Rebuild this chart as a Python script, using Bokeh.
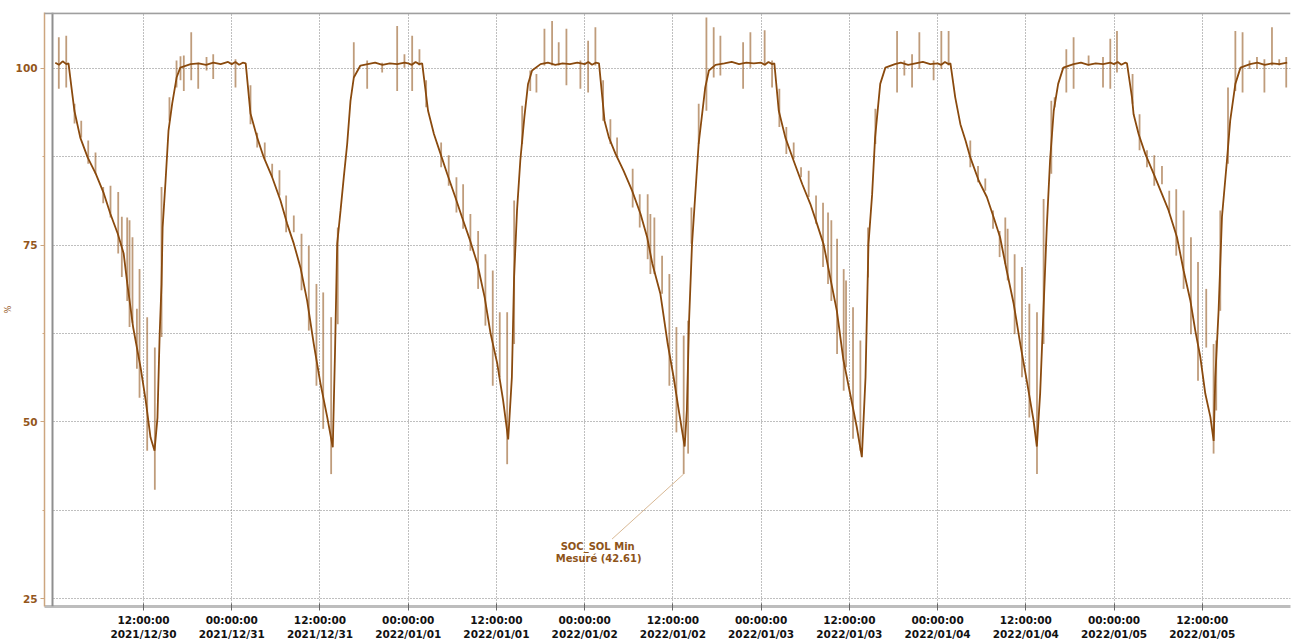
import numpy as np
import pandas as pd
from bokeh.plotting import figure
from bokeh.models import (Range1d, FixedTicker, DatetimeTickFormatter, Span,
                          BoxAnnotation, Label)
from bokeh.embed import file_html
from bokeh.resources import INLINE

# ---------------- data ----------------
DAY_STARTS = ["2021-12-30", "2021-12-31", "2022-01-01", "2022-01-02",
              "2022-01-03", "2022-01-04", "2022-01-05"]

# main SOC curve per day: hours since midnight / value in %
DAY1_H = [0, 0.5, 1.0, 1.5, 1.8, 2.2, 2.6, 3.4, 4.4, 5.5, 6.6, 7.5, 8.5, 9.3, 9.8, 10.6, 11.6, 12.3,
          12.95, 13.5, 13.9, 14.2, 14.45, 14.6, 15.0, 15.4, 15.9, 16.5, 17.0, 18.4, 19.5, 20.5, 21.5, 22.5, 23.5]
DAY1_V = [100.8, 100.5, 101.0, 100.6, 100.7, 97.3, 94.0, 90.2, 87.4, 85.1, 82.3, 79.4, 76.6, 73.8, 69.5, 63.3, 57.7, 53.0,
          47.8, 45.9, 50.6, 62.5, 69.5, 77.5, 84.1, 91.2, 95.0, 98.7, 100.1, 100.6, 100.7, 100.5, 100.8, 100.6, 100.9]
DAY2_H = [0, 0.5, 1.0, 1.5, 1.9, 2.55, 3.46, 4.36, 5.5, 6.63, 7.54, 8.44, 9.35, 10.26, 11.16, 12.07, 12.98, 13.74,
          14.05, 14.34, 14.8, 15.24, 15.7, 16.15, 16.6, 17.5, 18.5, 19.5, 20.5, 21.5, 22.5, 23.5]
DAY2_V = [100.6, 100.9, 100.5, 100.8, 100.7, 93.6, 90.2, 87.4, 84.6, 81.3, 78.0, 75.2, 71.8, 67.1, 61.0, 55.4, 50.7, 46.4,
          60.0, 75.2, 79.9, 84.6, 89.3, 95.4, 98.7, 100.4, 100.6, 100.8, 100.5, 100.7, 100.6, 100.8]
DAY3_H = [0, 0.5, 1.0, 1.5, 1.9, 2.7, 3.5, 4.4, 5.3, 6.4, 7.3, 8.4, 9.4, 10.4, 11.2, 12.1, 12.9, 13.6, 14.1, 14.4,
          14.8, 15.25, 15.8, 16.3, 16.85, 18.0, 19.0, 20.0, 21.0, 22.0, 23.0]
DAY3_V = [100.7, 100.5, 100.9, 100.6, 100.7, 94.0, 90.7, 87.9, 85.1, 81.8, 79.0, 75.7, 72.4, 67.6, 62.5, 58.3, 53.1, 47.5,
          56.3, 70.4, 79.9, 87.0, 93.1, 97.8, 99.7, 100.6, 100.8, 100.5, 100.7, 100.6, 100.8]
DAY4_H = [0, 0.5, 1.0, 1.5, 1.95, 2.4, 2.7, 3.3, 4.2, 5.3, 6.45, 7.6, 8.5, 9.2, 10.3, 11.3, 12.1, 12.8, 13.6, 13.9,
          14.2, 14.6, 15.2, 15.5, 16.4, 16.9, 17.8, 19.0, 20.0, 21.0, 22.0, 23.0]
DAY4_V = [100.6, 100.9, 100.5, 100.8, 100.7, 95.9, 92.6, 90.2, 87.9, 85.5, 82.7, 79.4, 76.1, 72.4, 68.1, 61.0, 56.3, 51.6,
          46.5, 51.6, 64.3, 75.1, 84.6, 89.3, 97.3, 99.7, 100.5, 100.7, 100.9, 100.6, 100.8, 100.7]
DAY5_H = [0, 0.5, 1.0, 1.5, 1.8, 2.4, 3.3, 4.4, 5.6, 6.7, 7.6, 8.5, 9.4, 10.3, 11.2, 12.1, 13.0, 13.7, 14.2, 14.6,
          15.1, 15.5, 16.2, 16.9, 18.2, 19.0, 20.0, 21.0, 22.0, 23.0]
DAY5_V = [100.8, 100.5, 100.9, 100.6, 100.7, 94.0, 90.2, 87.0, 83.6, 80.8, 78.0, 75.1, 70.4, 65.7, 58.7, 54.0, 49.3, 45.0,
          56.3, 75.1, 82.2, 90.2, 97.8, 100.1, 100.6, 100.8, 100.5, 100.7, 100.9, 100.6]
DAY6_H = [0, 0.5, 1.0, 1.5, 1.75, 2.4, 3.1, 3.8, 4.45, 5.6, 6.7, 7.6, 8.5, 9.4, 10.35, 11.25, 12.2, 13.05, 13.5, 13.95,
          14.4, 14.85, 15.3, 15.8, 16.4, 17.1, 18.5, 19.5, 20.5, 21.5, 22.5, 23.5]
DAY6_V = [100.7, 100.5, 100.9, 100.6, 100.7, 95.9, 92.1, 89.8, 87.4, 84.1, 81.8, 79.0, 76.1, 71.4, 66.7, 61.0, 55.4, 50.2,
          46.5, 54.0, 65.7, 77.5, 87.0, 94.0, 97.8, 100.1, 100.6, 100.8, 100.5, 100.7, 100.6, 100.8]
DAY7_H = [0, 0.5, 1.0, 1.5, 1.76, 2.44, 2.66, 3.34, 4.25, 5.38, 6.52, 7.42, 8.56, 9.46, 10.37, 11.05, 11.73, 12.41,
          13.1, 13.55, 13.77, 14.22, 14.68, 15.36, 15.8, 16.5, 17.2, 18.5, 19.5, 20.5, 21.5, 22.5, 23.55]
DAY7_V = [100.6, 100.9, 100.5, 100.8, 100.7, 95.9, 93.5, 90.7, 87.9, 85.1, 82.2, 79.9, 76.1, 71.4, 67.2, 62.9, 59.2, 54.0,
          50.7, 47.3, 56.3, 65.7, 79.0, 87.0, 92.6, 97.8, 100.1, 100.6, 100.8, 100.5, 100.7, 100.6, 100.8]

# short measurement spikes per day: hour, low value, high value
DAY1_SPK_H = [0.48, 1.49, 2.62, 3.53, 4.48, 5.47, 6.52, 7.51, 8.56, 9.05, 9.78, 10.1, 10.5, 11.1, 11.46, 12.5, 13.54,
              14.45, 15.53, 16.49, 17.03, 17.48, 18.49, 19.44, 20.57, 21.48]
DAY1_SPK_LO = [97.1, 97.3, 92.2, 90.2, 86.5, 85.1, 80.9, 78.9, 73.8, 70.5, 67.1, 63.4, 64.0, 57.5, 53.4, 45.9, 40.4,
               62.0, 92.6, 97.3, 98.3, 96.8, 98.3, 97.1, 99.7, 98.5]
DAY1_SPK_HI = [104.4, 104.6, 95.0, 92.6, 89.8, 88.1, 83.2, 83.4, 82.5, 79.0, 78.9, 78.5, 76.1, 66.0, 71.6, 64.8, 60.5,
               83.2, 95.9, 101.1, 101.7, 101.8, 105.1, 100.8, 101.6, 102.0]
DAY2_SPK_H = [0.51, 2.55, 3.46, 4.49, 5.5, 6.49, 7.4, 8.44, 9.49, 10.48, 11.52, 12.44, 13.52, 14.42, 16.6, 18.42,
              20.46, 22.5, 23.49]
DAY2_SPK_LO = [97.3, 92.1, 88.8, 87.2, 84.6, 82.0, 76.8, 76.8, 68.6, 62.9, 55.1, 49.0, 42.6, 63.8, 98.7, 97.1,
               99.4, 96.8, 100.1]
DAY2_SPK_HI = [101.3, 97.6, 90.9, 89.5, 86.5, 85.6, 82.0, 79.2, 76.6, 74.9, 69.5, 68.3, 64.8, 77.5, 103.7, 101.1,
               100.8, 106.0, 102.0]
DAY3_SPK_H = [0.54, 1.53, 2.44, 4.48, 5.51, 6.56, 7.47, 8.46, 9.51, 10.5, 11.5, 12.45, 13.46, 14.41, 15.5, 16.6,
              17.44, 18.53, 19.57, 20.47, 21.52, 23.42]
DAY3_SPK_LO = [96.8, 100.4, 94.5, 86.0, 83.4, 79.6, 77.3, 74.2, 68.8, 63.6, 55.1, 56.3, 44.0, 61.0, 89.3, 96.8,
               96.6, 100.4, 100.4, 100.4, 97.6, 97.1]
DAY3_SPK_HI = [104.6, 102.7, 98.3, 89.5, 87.7, 84.6, 83.6, 79.4, 77.0, 73.7, 71.4, 65.5, 65.5, 81.3, 94.7, 99.7,
               99.2, 105.6, 106.7, 103.7, 105.6, 101.1]
DAY4_SPK_H = [0.47, 1.46, 2.51, 3.5, 4.41, 6.53, 7.49, 8.57, 8.94, 9.48, 10.53, 11.52, 12.48, 13.47, 14.07, 14.52,
              15.51, 16.56, 17.55, 18.46, 21.55, 22.54]
DAY4_SPK_LO = [96.6, 100.4, 92.6, 89.3, 87.4, 80.3, 77.5, 73.0, 70.9, 70.9, 68.1, 55.1, 48.5, 42.61, 45.5, 75.2,
               89.3, 94.0, 98.7, 99.0, 97.1, 100.1]
DAY4_SPK_HI = [103.9, 105.8, 98.3, 92.8, 90.2, 85.8, 82.2, 82.2, 79.4, 78.9, 73.5, 70.9, 63.4, 62.2, 64.3, 80.3,
               95.0, 107.2, 105.8, 104.6, 103.7, 105.1]
DAY5_SPK_H = [0.48, 1.49, 2.48, 3.43, 4.43, 5.43, 6.47, 7.47, 8.42, 9.1, 9.55, 10.33, 11.23, 11.55, 12.5, 13.5,
              14.54, 15.54, 18.49, 19.48, 20.53, 21.52, 23.46]
DAY5_SPK_LO = [100.4, 97.3, 91.7, 87.9, 87.2, 84.6, 81.8, 78.0, 71.9, 69.5, 67.1, 59.6, 54.4, 57.7, 47.6, 45.9,
               70.4, 89.3, 96.6, 99.0, 97.3, 99.9, 98.3]
DAY5_SPK_HI = [105.4, 101.1, 97.1, 91.7, 89.5, 86.0, 85.5, 82.0, 81.0, 79.6, 78.5, 75.9, 71.6, 70.0, 66.2, 61.5,
               77.5, 94.3, 105.3, 101.1, 102.0, 105.1, 101.1]
DAY6_SPK_H = [0.51, 1.5, 4.45, 5.5, 6.49, 7.54, 8.44, 9.21, 9.53, 10.48, 11.48, 12.48, 13.52, 14.42, 15.47, 15.92,
              17.51, 18.5, 20.54, 22.5, 23.49]
DAY6_SPK_LO = [99.9, 100.4, 86.0, 83.9, 82.7, 77.3, 73.3, 72.3, 70.0, 62.4, 56.3, 50.6, 42.6, 61.0, 85.1, 94.5,
               96.6, 97.1, 100.4, 97.3, 97.1]
DAY6_SPK_HI = [105.3, 105.3, 89.8, 86.2, 84.4, 79.9, 77.0, 78.9, 77.3, 73.7, 71.9, 66.7, 65.5, 81.5, 95.4, 95.9,
               102.7, 104.4, 101.8, 101.6, 104.2]
DAY7_SPK_H = [0.4, 2.52, 3.47, 4.48, 5.47, 6.52, 7.51, 8.46, 9.46, 10.46, 11.42, 12.54, 13.54, 13.9, 14.45, 15.5,
              16.5, 17.48, 18.43, 19.44, 20.45, 21.48, 22.47, 23.42]
DAY7_SPK_LO = [99.4, 95.0, 88.4, 86.0, 83.4, 83.6, 79.6, 73.5, 68.8, 62.4, 55.8, 60.5, 45.5, 51.6, 65.7, 86.5,
               96.8, 96.6, 99.9, 99.9, 96.6, 100.4, 100.4, 97.3]
DAY7_SPK_HI = [105.3, 99.2, 93.5, 88.4, 87.7, 86.2, 82.7, 82.9, 79.9, 76.1, 72.6, 68.8, 61.0, 61.5, 79.9, 97.3,
               105.3, 105.1, 101.1, 101.6, 101.3, 105.8, 101.3, 101.6]

TICK_TIMES = ["2021-12-30 12:00", "2021-12-31 00:00", "2021-12-31 12:00", "2022-01-01 00:00",
              "2022-01-01 12:00", "2022-01-02 00:00", "2022-01-02 12:00", "2022-01-03 00:00",
              "2022-01-03 12:00", "2022-01-04 00:00", "2022-01-04 12:00", "2022-01-05 00:00",
              "2022-01-05 12:00"]
Y_TICKS = [25, 50, 75, 100]
Y_MINOR = [37.5, 62.5, 87.5]
Y_LABEL = "%"

ANNOT_TIME = "2022-01-02 13:28"
ANNOT_VALUE = 42.61
ANNOT_TEXT = ["SOC_SOL Min", "Mesuré (42.61)"]

# ---------------- figure ----------------
LINE_C = "#8A4A0E"
LABEL_C = "#93561C"
AXIS_TAN = "#CDA67F"
GRID_C = "#7F7F7F"
FONT = "DejaVu Sans"


def ms(ts):
    return pd.Timestamp(ts).value / 1e6


HOUR = 3600e3
X0, X1 = ms("2021-12-29 22:32"), ms("2022-01-06 00:00")
Y0, Y1 = 23.87, 107.9
FW, FH = 1246, 594
MS_PER_PX = (X1 - X0) / FW
V_PER_PX = (Y1 - Y0) / FH

p = figure(frame_width=FW, frame_height=FH, x_axis_type="datetime",
           x_range=Range1d(X0, X1), y_range=Range1d(Y0, Y1),
           output_backend="svg", toolbar_location=None,
           min_border_left=44, min_border_right=3, min_border_top=12, min_border_bottom=34,
           background_fill_color="white", border_fill_color="white",
           outline_line_color=None)

# grids (dotted)
for g in (p.xgrid, p.ygrid):
    g.grid_line_color = GRID_C
    g.grid_line_dash = "1 2"
    g.grid_line_width = 1
p.ygrid.minor_grid_line_color = GRID_C
p.ygrid.minor_grid_line_dash = "1 2"

# x axis
xa = p.xaxis[0]
xa.ticker = FixedTicker(ticks=[ms(t) for t in TICK_TIMES], minor_ticks=[])
fmt = "%H:%M:%S\n%Y/%m/%d"
xa.formatter = DatetimeTickFormatter(microseconds=fmt, milliseconds=fmt, seconds=fmt, minsec=fmt,
                                     minutes=fmt, hourmin=fmt, hours=fmt, days=fmt, months=fmt, years=fmt)
xa.axis_line_color = "#BDBDBD"
xa.axis_line_width = 3
xa.major_tick_line_color = "#666666"
xa.major_tick_in = 3
xa.major_tick_out = 4
xa.minor_tick_line_color = None
xa.major_label_text_font = FONT
xa.major_label_text_font_style = "bold"
xa.major_label_text_font_size = "10.5px"
xa.major_label_text_color = "#111111"
xa.major_label_standoff = 3

# y axis
ya = p.yaxis[0]
ya.ticker = FixedTicker(ticks=Y_TICKS, minor_ticks=Y_MINOR)
ya.axis_line_color = AXIS_TAN
ya.axis_line_width = 1.5
ya.major_tick_line_color = AXIS_TAN
ya.major_tick_in = 0
ya.major_tick_out = 4
ya.minor_tick_line_color = AXIS_TAN
ya.minor_tick_in = 0
ya.minor_tick_out = 2
ya.major_label_text_font = FONT
ya.major_label_text_font_style = "bold"
ya.major_label_text_font_size = "10.5px"
ya.major_label_text_color = LABEL_C
ya.major_label_standoff = 3
ya.axis_label = Y_LABEL
ya.axis_label_text_font = FONT
ya.axis_label_text_font_style = "normal"
ya.axis_label_text_font_size = "8px"
ya.axis_label_text_color = LABEL_C
ya.axis_label_standoff = 0

# mask gap between axis line and plot border, then borders
border_x = X0 + 8 * MS_PER_PX
p.add_layout(BoxAnnotation(left=X0, right=border_x, fill_color="white", fill_alpha=1.0,
                           line_color=None, level="underlay"))
p.add_layout(Span(location=border_x, dimension="height", line_color="#8F8F8F", line_width=2))
p.add_layout(Span(location=Y1 - 0.12, dimension="width", line_color="#9F9F9F", line_width=2))

# data
days_h = [DAY1_H, DAY2_H, DAY3_H, DAY4_H, DAY5_H, DAY6_H, DAY7_H]
days_v = [DAY1_V, DAY2_V, DAY3_V, DAY4_V, DAY5_V, DAY6_V, DAY7_V]
spk_h = [DAY1_SPK_H, DAY2_SPK_H, DAY3_SPK_H, DAY4_SPK_H, DAY5_SPK_H, DAY6_SPK_H, DAY7_SPK_H]
spk_lo = [DAY1_SPK_LO, DAY2_SPK_LO, DAY3_SPK_LO, DAY4_SPK_LO, DAY5_SPK_LO, DAY6_SPK_LO, DAY7_SPK_LO]
spk_hi = [DAY1_SPK_HI, DAY2_SPK_HI, DAY3_SPK_HI, DAY4_SPK_HI, DAY5_SPK_HI, DAY6_SPK_HI, DAY7_SPK_HI]

xs, ys = [], []
sx, slo, shi = [], [], []
for d, day in enumerate(DAY_STARTS):
    base = ms(day)
    xs += [base + h * HOUR for h in days_h[d]]
    ys += list(days_v[d])
    sx += [base + h * HOUR for h in spk_h[d]]
    slo += list(spk_lo[d])
    shi += list(spk_hi[d])

p.segment(x0=sx, y0=slo, x1=sx, y1=shi, line_color=LINE_C, line_alpha=0.55, line_width=1.8)
p.line(xs, ys, line_color=LINE_C, line_width=1.8)

# annotation of the measured minimum
ta = ms(ANNOT_TIME)
p.segment(x0=[ta], y0=[ANNOT_VALUE], x1=[ta - 71.6 * MS_PER_PX], y1=[ANNOT_VALUE - 65 * V_PER_PX],
          line_color="#D8B894", line_width=1)
for i, (txt, dx, dy) in enumerate(zip(ANNOT_TEXT, [-86, -85], [-72.7, -84.3])):
    p.add_layout(Label(x=ta, y=ANNOT_VALUE, x_offset=dx, y_offset=dy, text=txt,
                       text_align="center", text_baseline="middle", text_font=FONT,
                       text_font_style="bold", text_font_size="10px", text_color="#8E5419"))

open("out.html", "w").write(file_html(p, INLINE))
